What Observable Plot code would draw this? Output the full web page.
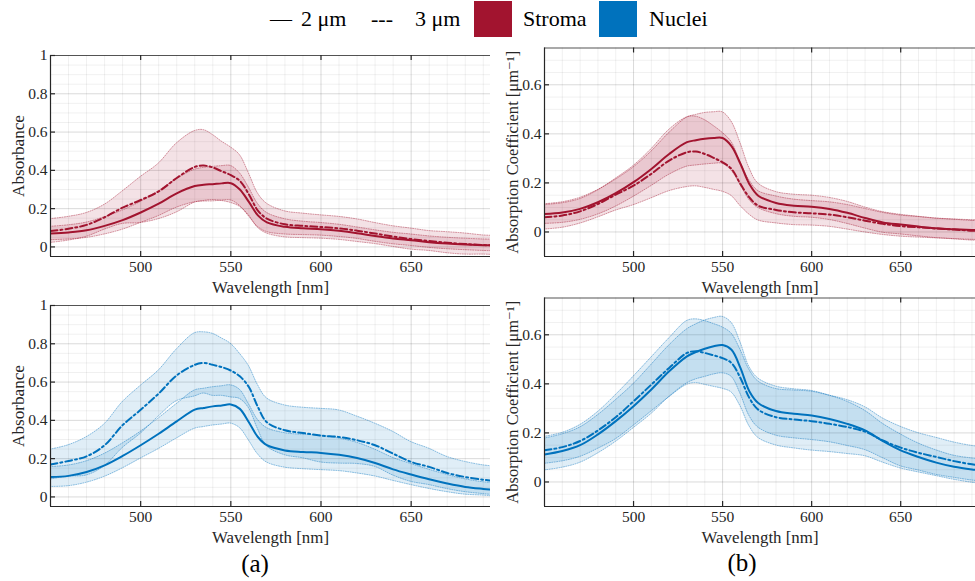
<!DOCTYPE html>
<html><head><meta charset="utf-8">
<script src="https://cdn.jsdelivr.net/npm/d3@7"></script>
<script src="https://cdn.jsdelivr.net/npm/@observablehq/plot@0.6"></script>
<style>
body{margin:0;background:#fff;font-family:'Liberation Serif','Tinos','Times New Roman','DejaVu Serif',serif;}
#root{position:relative;width:975px;height:581px;overflow:hidden;background:#fff;}
.leg{position:absolute;top:0;height:38px;line-height:38px;font-size:22px;color:#000;white-space:nowrap;}
.sw{position:absolute;top:1px;width:38px;height:36px;}
.plab{position:absolute;font-size:25px;color:#000;transform:translate(-50%,-50%);}
svg text{font-family:'Liberation Serif','Tinos','Times New Roman','DejaVu Serif',serif !important;}
</style></head><body><div id="root"></div>
<script>
// ---- data ----
const wavelength = [450,460,470,480,490,500,510,520,530,535,540,545,550,555,560,565,570,580,590,600,610,620,630,640,650,660,670,680,690,695];

const stromaAbs2 = [0.070,0.076,0.087,0.110,0.140,0.180,0.226,0.280,0.318,0.325,0.328,0.332,0.333,0.300,0.235,0.165,0.128,0.105,0.097,0.092,0.084,0.072,0.057,0.044,0.035,0.025,0.018,0.013,0.009,0.008];
const stromaAbs2Sd = [0.035,0.037,0.040,0.045,0.050,0.055,0.065,0.075,0.085,0.088,0.090,0.090,0.090,0.085,0.075,0.060,0.050,0.040,0.035,0.033,0.032,0.030,0.030,0.030,0.030,0.030,0.030,0.030,0.030,0.030];
const stromaAbs3 = [0.083,0.095,0.115,0.155,0.205,0.245,0.290,0.360,0.418,0.425,0.415,0.395,0.375,0.345,0.275,0.190,0.148,0.118,0.110,0.104,0.097,0.085,0.070,0.054,0.041,0.031,0.022,0.015,0.010,0.008];
const stromaAbs3Sd = [0.062,0.062,0.062,0.065,0.085,0.120,0.145,0.180,0.187,0.185,0.170,0.155,0.145,0.135,0.110,0.090,0.078,0.068,0.064,0.061,0.060,0.059,0.055,0.054,0.055,0.052,0.055,0.055,0.050,0.050];

const nucleiAbs2 = [0.104,0.110,0.130,0.165,0.214,0.270,0.330,0.395,0.456,0.465,0.473,0.478,0.483,0.460,0.390,0.313,0.270,0.243,0.235,0.230,0.220,0.203,0.177,0.144,0.117,0.092,0.070,0.052,0.042,0.038];
const nucleiAbs2Sd = [0.052,0.054,0.056,0.060,0.065,0.070,0.080,0.090,0.100,0.100,0.100,0.100,0.100,0.100,0.095,0.090,0.090,0.090,0.090,0.090,0.085,0.080,0.070,0.060,0.055,0.050,0.045,0.040,0.035,0.035];
const nucleiAbs3 = [0.169,0.188,0.212,0.270,0.375,0.455,0.540,0.635,0.690,0.700,0.690,0.678,0.660,0.630,0.574,0.470,0.390,0.348,0.334,0.320,0.313,0.296,0.270,0.226,0.183,0.157,0.125,0.104,0.090,0.085];
const nucleiAbs3Sd = [0.078,0.082,0.100,0.110,0.120,0.125,0.120,0.135,0.165,0.160,0.162,0.150,0.140,0.118,0.110,0.115,0.125,0.130,0.132,0.140,0.139,0.124,0.113,0.114,0.104,0.095,0.084,0.079,0.075,0.075];

const stromaCoef2 = [0.073,0.079,0.094,0.121,0.158,0.203,0.257,0.318,0.366,0.374,0.380,0.383,0.383,0.350,0.278,0.196,0.148,0.118,0.107,0.103,0.094,0.078,0.057,0.039,0.030,0.022,0.015,0.011,0.008,0.007];
const stromaCoef2Sd = [0.040,0.042,0.045,0.050,0.055,0.060,0.070,0.085,0.100,0.103,0.105,0.105,0.105,0.100,0.085,0.065,0.050,0.045,0.045,0.045,0.045,0.045,0.043,0.042,0.040,0.040,0.040,0.040,0.040,0.040];
const stromaCoef3 = [0.060,0.067,0.084,0.114,0.152,0.189,0.237,0.291,0.325,0.328,0.318,0.302,0.284,0.257,0.196,0.141,0.107,0.090,0.080,0.076,0.071,0.060,0.046,0.033,0.024,0.019,0.014,0.010,0.005,0.004];
const stromaCoef3Sd = [0.050,0.050,0.050,0.055,0.065,0.080,0.100,0.125,0.142,0.142,0.138,0.130,0.120,0.110,0.090,0.070,0.060,0.055,0.052,0.050,0.050,0.050,0.048,0.045,0.043,0.042,0.040,0.040,0.040,0.040];

const nucleiCoef2 = [0.112,0.126,0.150,0.194,0.248,0.309,0.377,0.451,0.512,0.530,0.543,0.553,0.558,0.539,0.465,0.370,0.322,0.289,0.278,0.271,0.257,0.237,0.210,0.167,0.129,0.102,0.079,0.062,0.051,0.047];
const nucleiCoef2Sd = [0.065,0.068,0.072,0.078,0.085,0.090,0.100,0.105,0.110,0.112,0.115,0.115,0.115,0.110,0.105,0.100,0.100,0.100,0.100,0.100,0.095,0.090,0.080,0.070,0.065,0.055,0.050,0.045,0.045,0.045];
const nucleiCoef3 = [0.129,0.142,0.167,0.210,0.264,0.329,0.397,0.465,0.526,0.533,0.526,0.516,0.505,0.485,0.424,0.343,0.295,0.264,0.255,0.248,0.237,0.224,0.205,0.169,0.140,0.119,0.102,0.085,0.072,0.068];
const nucleiCoef3Sd = [0.055,0.058,0.065,0.075,0.090,0.100,0.110,0.120,0.130,0.130,0.130,0.128,0.125,0.120,0.115,0.115,0.115,0.115,0.118,0.120,0.115,0.110,0.100,0.090,0.085,0.080,0.078,0.076,0.075,0.075];

const xTicks = [500, 550, 600, 650];
const absTicks = [0, 0.2, 0.4, 0.6, 0.8, 1];
const coefTicks = [0, 0.2, 0.4, 0.6];
const legendLabels = ["2 μm", "3 μm", "Stroma", "Nuclei"];
const panelLabels = ["(a)", "(b)"];
const colors = {Stroma: "#A2142F", Nuclei: "#0072BD"};

// ---- drawing ----
const root = document.getElementById("root");
const FONT = "'Liberation Serif','Tinos','Times New Roman','DejaVu Serif',serif";
const INK = "#262626";
const curve = "catmull-rom";

function rows(mean, sd) {
  return wavelength.map((w, i) => ({w, m: mean[i], lo: mean[i] - sd[i], hi: mean[i] + sd[i]}));
}
function range(a, b, step) {
  const out = [];
  for (let v = a; v <= b + 1e-9; v += step) out.push(+v.toFixed(4));
  return out;
}
// scale a text's font so that its length matches the reference length
function fitText(svg, str, target, base) {
  svg.querySelectorAll("text").forEach(t => {
    if (t.textContent !== str) return;
    const len = t.getComputedTextLength();
    if (len > 0) t.style.fontSize = (base * target / len).toFixed(2) + "px";
  });
}

function panel({left, top, width, height, mL, mR, mT, mB, xDomain, yDomain, yTicks, yLabel, yLabelLen, color, m2, s2, m3, s3}) {
  const d2 = rows(m2, s2), d3 = rows(m3, s3);
  const plotW = width - mL - mR, plotH = height - mT - mB;
  const tx = (xDomain[1] - xDomain[0]) / plotW * 5;
  const ty = (yDomain[1] - yDomain[0]) / plotH * 5;
  const minorX = range(450, xDomain[1], 10).filter(v => !xTicks.includes(v));
  const minorY = range(yDomain[0], yDomain[1], 0.05).filter(v => !yTicks.some(t => Math.abs(t - v) < 1e-6));
  const bandStyle = {x: "w", y1: "lo", y2: "hi", fill: color, fillOpacity: 0.12, stroke: color, strokeOpacity: 0.5, strokeWidth: 0.9, strokeDasharray: "1 1.4", curve, clip: true};
  const svg = Plot.plot({
    width, height,
    marginLeft: mL, marginRight: mR, marginTop: mT, marginBottom: mB,
    style: {fontFamily: FONT, fontSize: "15.5px", color: INK, background: "transparent", overflow: "visible"},
    x: {domain: xDomain, label: null},
    y: {domain: yDomain, label: null},
    marks: [
      Plot.ruleX(minorX, {stroke: "#000", strokeOpacity: 0.06}),
      Plot.ruleY(minorY, {stroke: "#000", strokeOpacity: 0.06}),
      Plot.ruleX(xTicks, {stroke: "#000", strokeOpacity: 0.15}),
      Plot.ruleY(yTicks, {stroke: "#000", strokeOpacity: 0.15}),
      Plot.areaY(d3, bandStyle),
      Plot.areaY(d2, bandStyle),
      Plot.lineY(d3, {x: "w", y: "m", stroke: color, strokeWidth: 2, strokeDasharray: "7 3 2 3", curve, clip: true}),
      Plot.lineY(d2, {x: "w", y: "m", stroke: color, strokeWidth: 2, curve, clip: true}),
      Plot.axisX(xTicks, {tickSize: 0, tickPadding: 4, tickFormat: d => String(d), fill: INK}),
      Plot.axisY(yTicks, {tickSize: 0, tickPadding: 3, tickFormat: d => String(+d.toFixed(2)), fill: INK}),
      Plot.ruleY([yDomain[0]], {stroke: INK, strokeWidth: 1.2}),
      Plot.ruleY([yDomain[1]], {stroke: INK, strokeOpacity: 0.75, strokeWidth: 1.2}),
      Plot.ruleX([xDomain[0]], {stroke: INK, strokeWidth: 1.2}),
      Plot.ruleX(xTicks, {y1: yDomain[1], y2: yDomain[1] - ty, stroke: INK, strokeWidth: 1.2}),
      Plot.ruleX(xTicks, {y1: yDomain[0], y2: yDomain[0] + ty, stroke: INK, strokeWidth: 1.2}),
      Plot.ruleY(yTicks, {x1: xDomain[0], x2: xDomain[0] + tx, stroke: INK, strokeWidth: 1.2}),
      Plot.text(["Wavelength [nm]"], {frameAnchor: "bottom", dy: 31, lineAnchor: "middle", textAnchor: "middle", fontSize: 17, fill: INK, text: d => d}),
      Plot.text([yLabel], {frameAnchor: "left", dx: -32, rotate: -90, lineAnchor: "middle", textAnchor: "middle", fontSize: 17, fill: INK, text: d => d})
    ]
  });
  svg.style.position = "absolute";
  svg.style.left = left + "px";
  svg.style.top = top + "px";
  root.appendChild(svg);
  fitText(svg, "Wavelength [nm]", 117, 17);
  fitText(svg, yLabel, yLabelLen, 17);
}

const aBox = {left: 0, width: 492, height: 262, mL: 50, mR: 2, mT: 15, mB: 46, xDomain: [450, 694], yDomain: [-0.05, 1], yTicks: absTicks, yLabel: "Absorbance", yLabelLen: 82};
const bBox = {left: 490, width: 485, height: 272, mL: 54, mR: 0, mT: 17.5, mB: 46, xDomain: [450, 692], yDomain: [-0.1, 0.75], yTicks: coefTicks, yLabel: "Absorption Coefficient [μm⁻¹]", yLabelLen: 203};

panel({...aBox, top: 40, color: colors.Stroma, m2: stromaAbs2, s2: stromaAbs2Sd, m3: stromaAbs3, s3: stromaAbs3Sd});
panel({...aBox, top: 290, color: colors.Nuclei, m2: nucleiAbs2, s2: nucleiAbs2Sd, m3: nucleiAbs3, s3: nucleiAbs3Sd});
panel({...bBox, top: 30, color: colors.Stroma, m2: stromaCoef2, s2: stromaCoef2Sd, m3: stromaCoef3, s3: stromaCoef3Sd});
panel({...bBox, top: 280, color: colors.Nuclei, m2: nucleiCoef2, s2: nucleiCoef2Sd, m3: nucleiCoef3, s3: nucleiCoef3Sd});

// legend
function addDiv(cls, x, text, extra) {
  const d = document.createElement("div");
  d.className = cls;
  d.style.left = x + "px";
  if (text != null) d.textContent = text;
  if (extra) Object.assign(d.style, extra);
  root.appendChild(d);
  return d;
}
addDiv("leg", 270, "—");
addDiv("leg", 301, legendLabels[0]);
addDiv("leg", 371, "---");
addDiv("leg", 415, legendLabels[1]);
addDiv("sw", 474, null, {background: colors.Stroma});
addDiv("leg", 523, legendLabels[2]);
addDiv("sw", 599, null, {background: colors.Nuclei});
addDiv("leg", 649, legendLabels[3]);

// panel captions
addDiv("plab", 255, panelLabels[0], {top: "564px"});
addDiv("plab", 742, panelLabels[1], {top: "563px"});
</script>
</body></html>
